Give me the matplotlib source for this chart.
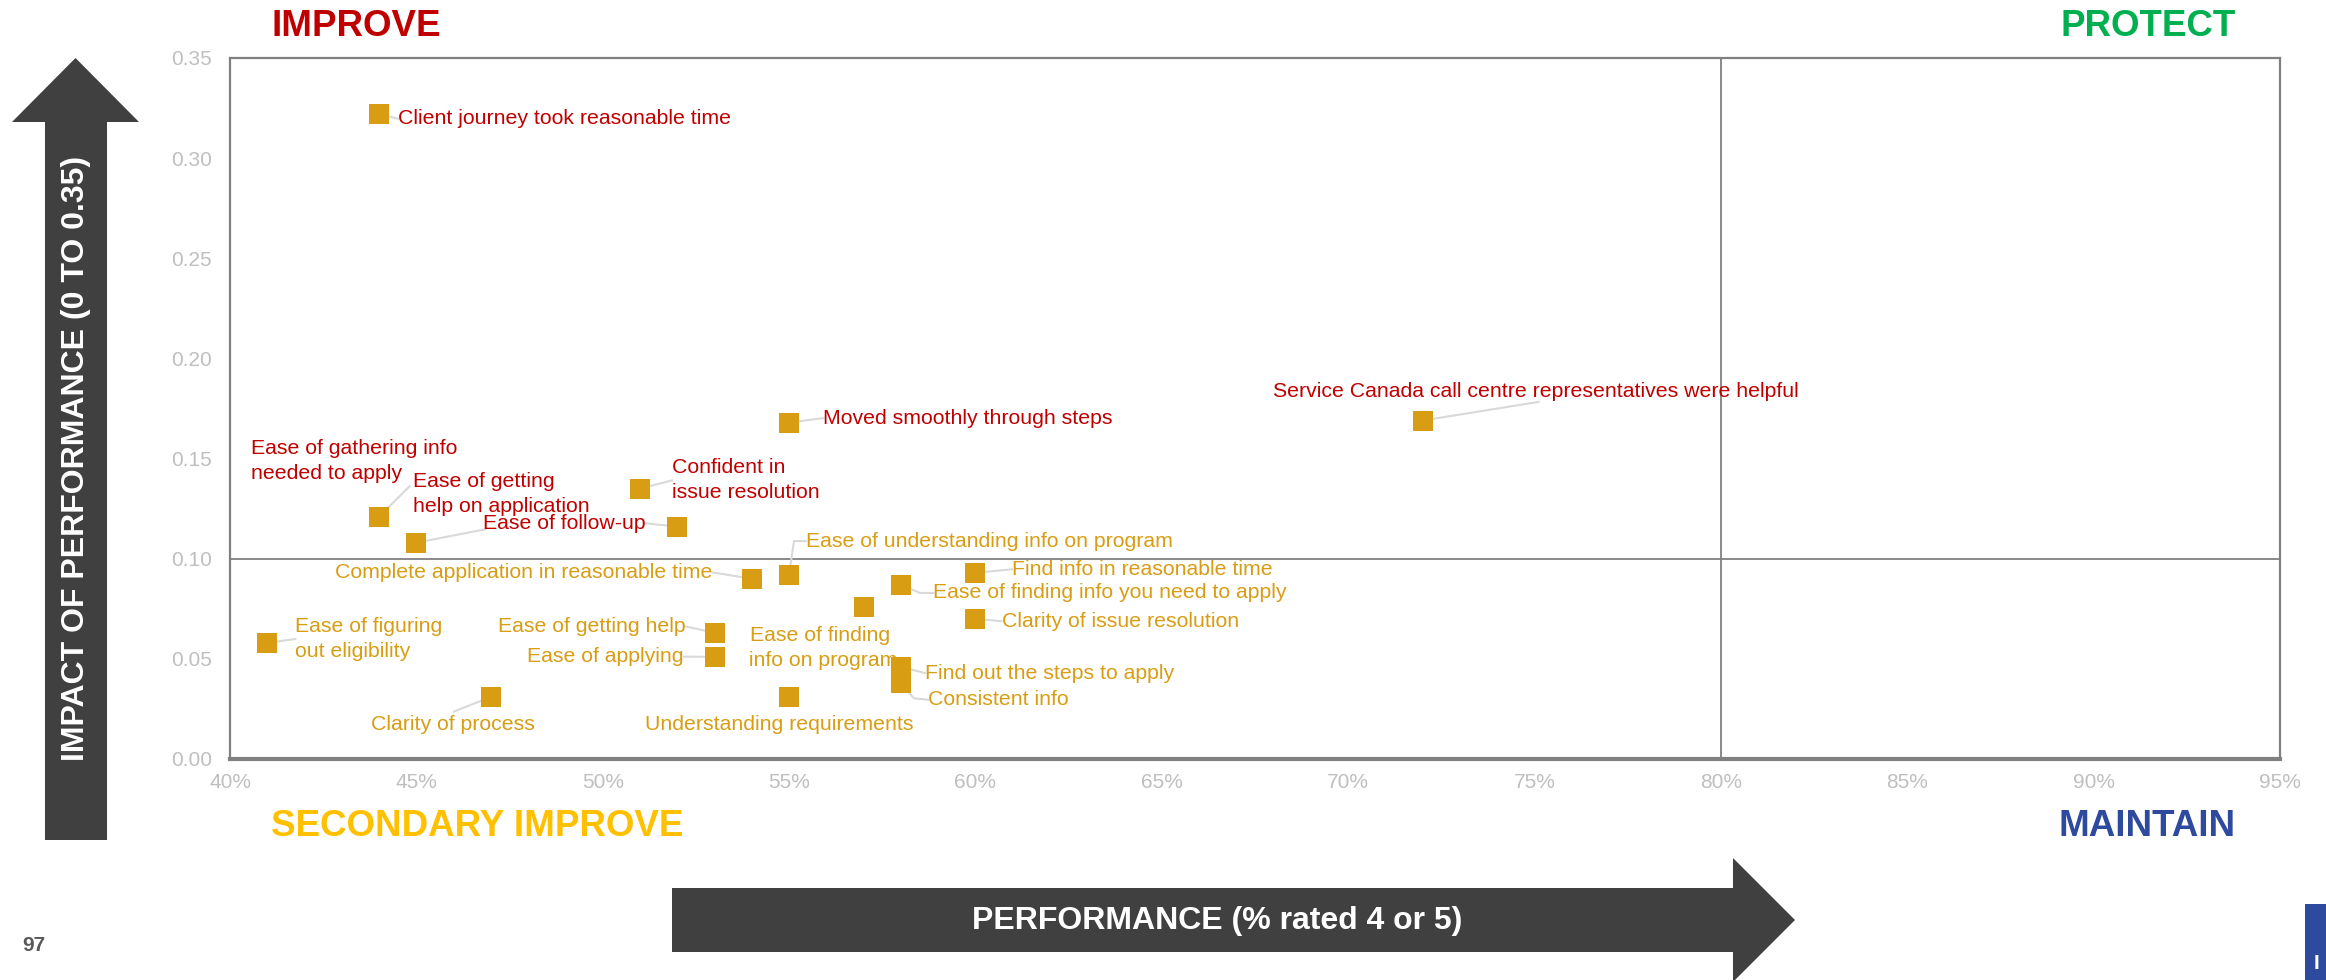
### Importance / performance quadrant chart ###
import matplotlib
matplotlib.use('Agg')
import matplotlib.pyplot as plt
import matplotlib.ticker as ticker
from matplotlib.patches import Polygon, Rectangle

plt.rcParams['font.family'] = ['Liberation Sans', 'DejaVu Sans']

##### data #####
labels = ['Client journey took reasonable time',
          'Service Canada call centre representatives were helpful',
          'Moved smoothly through steps',
          'Ease of gathering info\nneeded to apply',
          'Ease of getting\nhelp on application',
          'Confident in\nissue resolution',
          'Ease of follow-up',
          'Complete application in reasonable time',
          'Ease of understanding info on program',
          'Ease of finding\n info on program',
          'Ease of finding info you need to apply',
          'Find info in reasonable time',
          'Clarity of issue resolution',
          'Ease of figuring\nout eligibility',
          'Ease of getting help',
          'Ease of applying',
          'Clarity of process',
          'Understanding requirements',
          'Find out the steps to apply',
          'Consistent info']
performance = [44, 72, 55, 44, 45, 51, 52, 54, 55, 57, 58, 60, 60, 41, 53, 53, 47, 55, 58, 58]
impact = [0.322, 0.169, 0.168, 0.121, 0.108, 0.135, 0.116, 0.090, 0.092, 0.076,
          0.087, 0.093, 0.070, 0.058, 0.063, 0.051, 0.031, 0.031, 0.046, 0.038]

x_ticks = [40, 45, 50, 55, 60, 65, 70, 75, 80, 85, 90, 95]
y_ticks = [0.00, 0.05, 0.10, 0.15, 0.20, 0.25, 0.30, 0.35]
x_split = 80     # performance threshold
y_split = 0.10   # impact threshold

##### label layout (text anchor, leader end, alignment) #####
lab_x = [44.50, 75.03, 55.92, 40.56, 44.90, 51.86, 51.15, 52.94, 55.45, 55.84,
         58.87, 60.98, 60.70, 41.75, 52.22, 52.18, 45.97, 54.73, 58.65, 58.73]
lab_y = [0.3197, 0.1835, 0.1702, 0.1487, 0.1325, 0.1391, 0.1177, 0.0932, 0.1088, 0.0555,
         0.0829, 0.0947, 0.0688, 0.0599, 0.0662, 0.0511, 0.0170, 0.0170, 0.0429, 0.0296]
lab_ha = ['left', 'center', 'left', 'left', 'left', 'left', 'right', 'right', 'left', 'center',
          'left', 'left', 'left', 'left', 'right', 'right', 'center', 'center', 'left', 'left']
# leader end points (None = no leader), elbow = leader continues on to the text anchor
lead_x = [44.50, 75.11, 55.92, 44.82, 46.85, 51.86, 51.15, 52.94, 55.13, None,
          58.51, 60.98, 60.70, 41.75, 52.22, 52.18, 46.01, None, 58.65, 58.35]
lead_y = [0.3197, 0.1783, 0.1702, 0.1362, 0.1147, 0.1391, 0.1177, 0.0932, 0.1088, None,
          0.0829, 0.0947, 0.0688, 0.0599, 0.0662, 0.0511, 0.0237, None, 0.0429, 0.0303]
elbow = [False, False, False, False, False, False, False, False, True, False,
         True, False, False, False, False, False, False, False, False, True]

marker_col = '#D99D13'
red = '#C00000'
gold = '#D99D13'
grey_frame = '#808080'
arrow_col = '#404040'

W, H = 2326, 980
fig = plt.figure(figsize=(W / 100, H / 100), dpi=100)

# overlay in pixel coords for arrows and decoration
bg = fig.add_axes([0, 0, 1, 1], zorder=0)
bg.set_xlim(0, W)
bg.set_ylim(H, 0)
bg.axis('off')

# vertical arrow
bg.add_patch(Polygon([(75.5, 58), (139, 122), (107, 122), (107, 840), (45, 840), (45, 122), (12, 122)],
                     closed=True, color=arrow_col, lw=0))
bg.text(76, 458, 'IMPACT OF PERFORMANCE (0 TO 0.35)', rotation=90, color='white',
        fontsize=23, fontweight='bold', ha='center', va='center')
# horizontal arrow
bg.add_patch(Polygon([(672, 888), (1733, 888), (1733, 858), (1795, 920), (1733, 982), (1733, 952), (672, 952)],
                     closed=True, color=arrow_col, lw=0, clip_on=False))
bg.text(1217, 921, 'PERFORMANCE (% rated 4 or 5)', color='white',
        fontsize=23, fontweight='bold', ha='center', va='center')

# quadrant names
bg.text(271, 26, 'IMPROVE', color=red, fontsize=26.5, fontweight='bold', ha='left', va='center')
bg.text(2236, 26, 'PROTECT', color='#00B050', fontsize=26.5, fontweight='bold', ha='right', va='center')
bg.text(271, 826, 'SECONDARY IMPROVE', color='#FFC000', fontsize=26.5, fontweight='bold', ha='left', va='center')
bg.text(2236, 826, 'MAINTAIN', color='#2E4A9E', fontsize=26.5, fontweight='bold', ha='right', va='center')

# page number and cut-off logo box
bg.text(22, 945, '97', color='#595959', fontsize=15, fontweight='bold', ha='left', va='center')
bg.add_patch(Rectangle((2305, 904), 30, 80, color='#2E4A9E', lw=0, clip_on=False))
bg.text(2314, 963, 'I', color='white', fontsize=15, fontweight='bold', ha='left', va='center')

##### main plot #####
ax = fig.add_axes([230 / W, 1 - 759 / H, (2280 - 230) / W, (759 - 58) / H], zorder=1)
ax.set_xlim(40, 95)
ax.set_ylim(0, 0.35)
ax.set_xticks(x_ticks)
ax.set_yticks(y_ticks)
ax.xaxis.set_major_formatter(ticker.FuncFormatter(lambda v, p: f'{v:.0f}%'))
ax.yaxis.set_major_formatter(ticker.FormatStrFormatter('%.2f'))
ax.tick_params(axis='both', length=0, labelsize=15, labelcolor='#BFBFBF')
ax.tick_params(axis='y', pad=13)
ax.tick_params(axis='x', pad=10)
for s in ax.spines.values():
    s.set_color(grey_frame)
    s.set_linewidth(1.6)
ax.spines['bottom'].set_linewidth(3)

ax.axvline(x_split, color=grey_frame, lw=1.3, zorder=1)
ax.axhline(y_split, color=grey_frame, lw=1.3, zorder=1)

for i in range(len(labels)):
    col = red if impact[i] > y_split else gold
    if lead_x[i] is not None:
        xs = [performance[i], lead_x[i]]
        ys = [impact[i], lead_y[i]]
        if elbow[i]:
            xs.append(lab_x[i])
            ys.append(lab_y[i])
        ax.plot(xs, ys, color='#D9D9D9', lw=1.5, zorder=2)
    ax.text(lab_x[i], lab_y[i], labels[i], color=col, fontsize=15.3, ha=lab_ha[i], va='center',
            linespacing=1.4, zorder=4)

ax.plot(performance, impact, 's', color=marker_col, ms=14, mew=0, zorder=3)

fig.savefig('out.png', dpi=100)
